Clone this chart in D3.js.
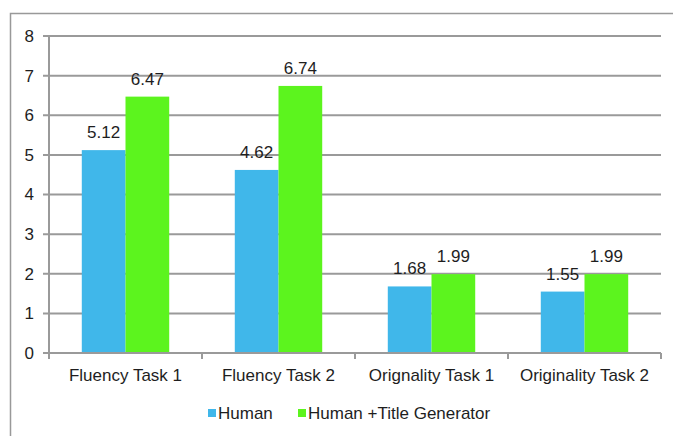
<!DOCTYPE html>
<html>
<head>
<meta charset="utf-8">
<script src="https://cdn.jsdelivr.net/npm/d3@7"></script>
<style>
  body { margin: 0; background: #fff; }
  text { font-family: 'Liberation Sans', Arial, sans-serif; fill: #1e1e1e; }
</style>
</head>
<body>
<div id="chart"></div>
<script>
const categories = ['Fluency Task 1', 'Fluency Task 2', 'Orignality Task 1', 'Originality Task 2']
const seriesNames = ['Human', 'Human +Title Generator']
const human = [5.12, 4.62, 1.68, 1.55]
const humanTitle = [6.47, 6.74, 1.99, 1.99]
const yTicks = [0, 1, 2, 3, 4, 5, 6, 7, 8]
const colors = ['#40b7ea', '#5cf41e']

const W = 673, H = 436
const margin = { top: 36, left: 49, right: 12, bottom: 83 }
const width = W - margin.left - margin.right
const height = H - margin.top - margin.bottom
const fs = 17

const svg = d3.select('#chart').append('svg')
  .attr('width', W).attr('height', H)

// outer frame (only left and top visible)
svg.append('rect')
  .attr('x', 10.5).attr('y', 13.5)
  .attr('width', W + 20).attr('height', H + 20)
  .attr('fill', 'none').attr('stroke', '#999').attr('stroke-width', 1.5)

const g = svg.append('g')
  .attr('transform', `translate(${margin.left},${margin.top})`)

const x = d3.scaleBand().domain(categories).range([0, width])
const y = d3.scaleLinear().domain([0, 8]).range([height, 0])

// gridlines
g.selectAll('.grid').data(yTicks.filter(d => d > 0)).enter()
  .append('line')
  .attr('x1', -6).attr('x2', width)
  .attr('y1', d => y(d)).attr('y2', d => y(d))
  .attr('stroke', '#9a9a9a').attr('stroke-width', 2)

const data = categories.map((c, i) => ({ cat: c, values: [human[i], humanTitle[i]] }))
const barW = x.bandwidth() / (2 + 1.5)
const gap = barW * 0.75

const groups = g.selectAll('.grp').data(data).enter()
  .append('g')
  .attr('transform', d => `translate(${x(d.cat) + gap},0)`)

groups.selectAll('rect').data(d => d.values).enter()
  .append('rect')
  .attr('x', (d, i) => i * barW)
  .attr('y', d => y(d))
  .attr('width', barW)
  .attr('height', d => height - y(d))
  .attr('fill', (d, i) => colors[i])

groups.selectAll('.lbl').data(d => d.values).enter()
  .append('text')
  .attr('x', (d, i) => i * barW + barW / 2)
  .attr('y', d => y(d) - 12)
  .attr('text-anchor', 'middle')
  .attr('font-size', fs)
  .text(d => d.toFixed(2))

// y axis line
g.append('line')
  .attr('x1', 0).attr('x2', 0).attr('y1', 0).attr('y2', height)
  .attr('stroke', '#9a9a9a').attr('stroke-width', 2)

// x axis
g.append('line')
  .attr('x1', -6).attr('x2', width).attr('y1', height).attr('y2', height)
  .attr('stroke', '#9a9a9a').attr('stroke-width', 2)
const xTicks = categories.map(c => x(c)).concat([width])
g.selectAll('.xt').data(xTicks).enter()
  .append('line')
  .attr('x1', d => d).attr('x2', d => d)
  .attr('y1', height).attr('y2', height + 6)
  .attr('stroke', '#9a9a9a').attr('stroke-width', 2)

g.selectAll('.ylab').data(yTicks).enter()
  .append('text')
  .attr('x', -15).attr('y', d => y(d))
  .attr('dy', '0.35em')
  .attr('text-anchor', 'end')
  .attr('font-size', fs)
  .text(d => d)

g.selectAll('.xlab').data(categories).enter()
  .append('text')
  .attr('x', d => x(d) + x.bandwidth() / 2)
  .attr('y', height + 22)
  .attr('dy', '0.35em')
  .attr('text-anchor', 'middle')
  .attr('font-size', fs)
  .text(d => d)

// legend
const legendX = [208, 298]
const legend = svg.selectAll('.leg').data(seriesNames).enter()
  .append('g')
  .attr('transform', (d, i) => `translate(${legendX[i]},413)`)
legend.append('rect')
  .attr('x', 0).attr('y', -4).attr('width', 8).attr('height', 8)
  .attr('fill', (d, i) => colors[i])
legend.append('text')
  .attr('x', 10).attr('dy', '0.35em')
  .attr('font-size', fs)
  .text(d => d)
</script>
</body>
</html>
